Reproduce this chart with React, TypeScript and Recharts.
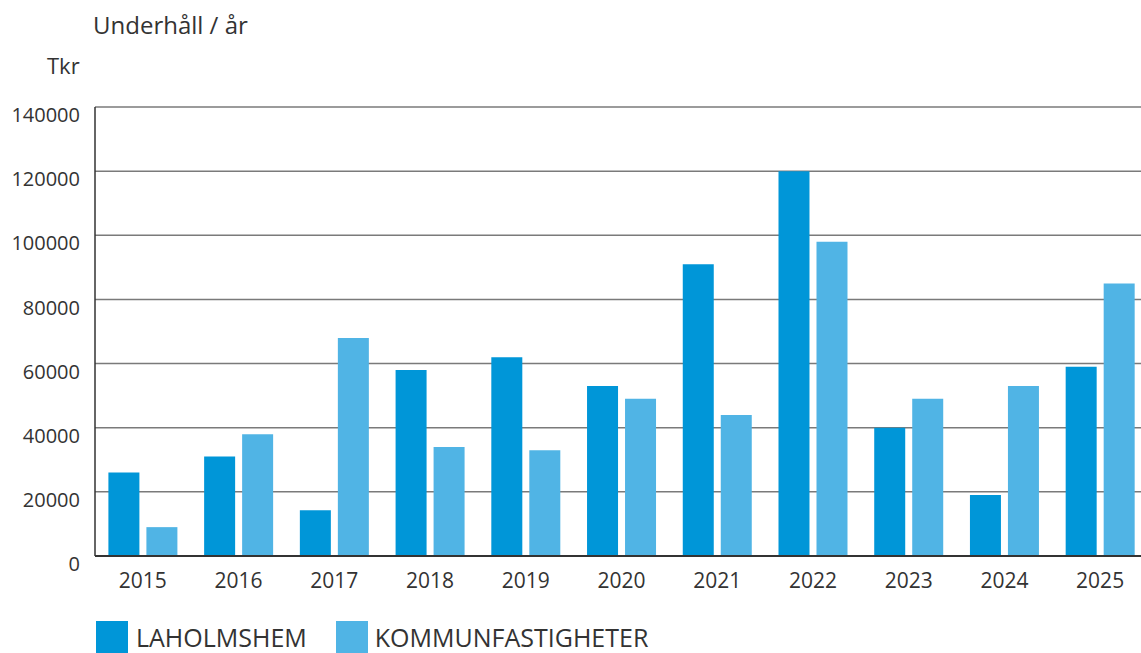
import React from 'react';
import { BarChart, Bar, XAxis, YAxis, CartesianGrid } from 'recharts';

const years = ['2015', '2016', '2017', '2018', '2019', '2020', '2021', '2022', '2023', '2024', '2025'];
const laholmshem = [26000, 31000, 14300, 58000, 62000, 53000, 91000, 120000, 40000, 19000, 59000];
const kommunfastigheter = [9000, 38000, 68000, 34000, 33000, 49000, 44000, 98000, 49000, 53000, 85000];
const yTicks = [0, 20000, 40000, 60000, 80000, 100000, 120000, 140000];

const data = years.map((year, i) => ({
  year,
  laholmshem: laholmshem[i],
  kommunfastigheter: kommunfastigheter[i],
}));

const FONT = '"Open Sans", "Noto Sans", sans-serif';
const DARK = '#0096d8';
const LIGHT = '#50b4e5';

const App: React.FC = () => {
  return (
    <div style={{ position: 'absolute', left: 0, top: 0, width: 1141, height: 653, background: '#fff', fontFamily: FONT, overflow: 'hidden' }}>
      <div style={{ position: 'absolute', left: 93, top: 8, fontSize: 24, color: '#333' }}>Underhåll / år</div>
      <div style={{ position: 'absolute', left: 47, top: 50, fontSize: 22, color: '#333' }}>Tkr</div>
      <BarChart
        width={1148}
        height={653}
        data={data}
        margin={{ top: 107, right: 0, left: 0, bottom: 47 }}
        barCategoryGap="14%"
        barGap={7}
      >
        <CartesianGrid vertical={false} stroke="#7a7a7a" strokeWidth={1.5} />
        <XAxis
          dataKey="year"
          axisLine={{ stroke: '#333', strokeWidth: 2 }}
          tickLine={false}
          tickMargin={11}
          tick={{ fontSize: 21, fill: '#333', fontFamily: FONT }}
          height={50}
        />
        <YAxis
          width={95}
          domain={[0, 140000]}
          ticks={yTicks}
          interval={0}
          axisLine={{ stroke: '#333', strokeWidth: 1.5 }}
          tickLine={false}
          tickSize={0}
          tickMargin={15}
          tick={{ fontSize: 20, fill: '#333', fontFamily: FONT, dy: 8 }}
        />
        <Bar dataKey="laholmshem" name="LAHOLMSHEM" fill={DARK} isAnimationActive={false} />
        <Bar dataKey="kommunfastigheter" name="KOMMUNFASTIGHETER" fill={LIGHT} isAnimationActive={false} />
      </BarChart>
      <div
        style={{
          position: 'absolute',
          left: 96,
          top: 621,
          display: 'flex',
          alignItems: 'center',
          fontSize: 25,
          color: '#333',
          lineHeight: '32px',
        }}
      >
        <span style={{ width: 32, height: 32, background: DARK, display: 'inline-block', marginRight: 8 }} />
        <span style={{ marginRight: 29 }}>LAHOLMSHEM</span>
        <span style={{ width: 32, height: 32, background: LIGHT, display: 'inline-block', marginRight: 7 }} />
        <span>KOMMUNFASTIGHETER</span>
      </div>
    </div>
  );
};

export default App;
